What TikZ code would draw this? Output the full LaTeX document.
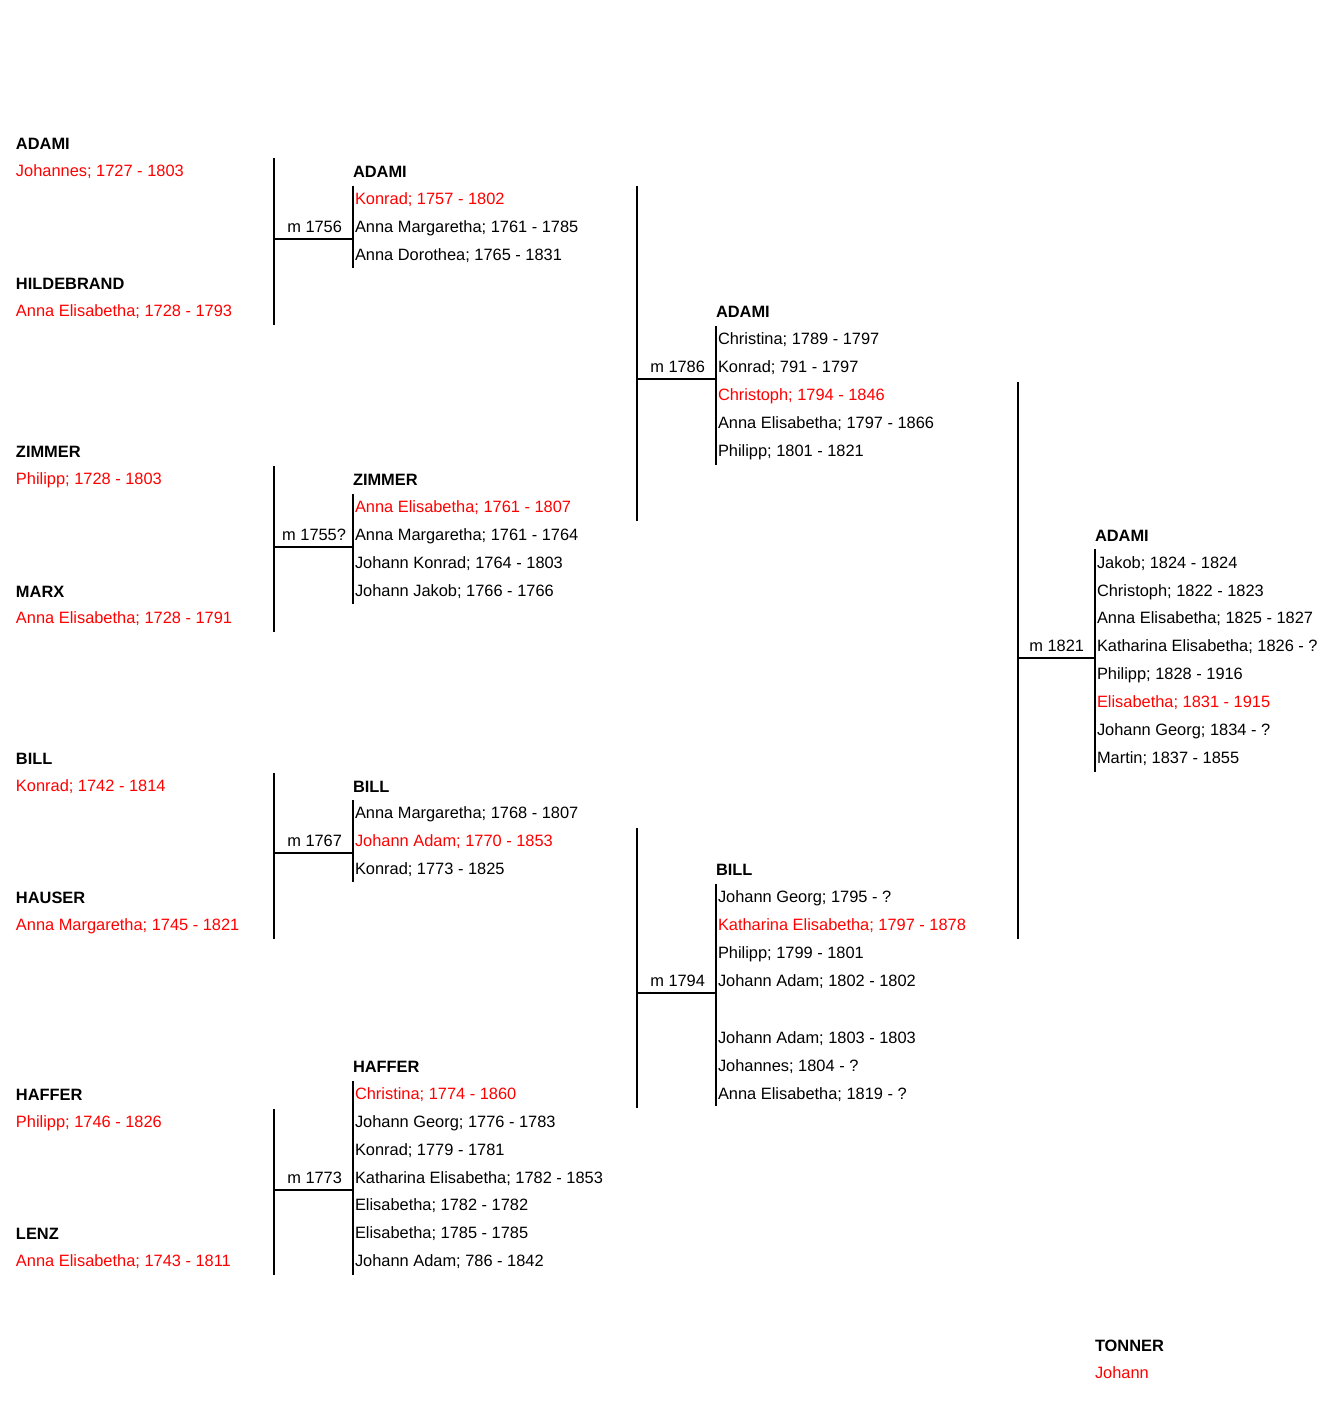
\documentclass[tikz,border=0pt]{standalone}
\usepackage{fontspec}
\setmainfont{Liberation Sans}
\begin{document}
\begin{tikzpicture}[x=1pt,y=-1pt,
  txt/.style={inner sep=0pt,outer sep=0pt,anchor=base west,font=\fontsize{16.4}{20}\selectfont},
  fam/.style={txt,font=\fontsize{16.4}{20}\selectfont\bfseries},
  per/.style={txt,text=red},
  kid/.style={txt},
  mar/.style={txt,anchor=base east},
  ln/.style={line width=2pt,black},
  thin/.style={line width=1.6pt,black}]
\useasboundingbox (0,0) rectangle (1324,1403);
\begin{scope}[yshift=-1pt]
% ---------- generation 1 ----------
\node[fam] (fA1) at (16,148) {ADAMI};
\node[per] (pA1) at (16,175) {Johannes; 1727 - 1803};
\node[fam] (fA2) at (16,288) {HILDEBRAND};
\node[per] (pA2) at (16,315) {Anna Elisabetha; 1728 - 1793};
\node[fam] (fA3) at (16,456) {ZIMMER};
\node[per] (pA3) at (16,483) {Philipp; 1728 - 1803};
\node[fam] (fA4) at (16,596) {MARX};
\node[per] (pA4) at (16,622) {Anna Elisabetha; 1728 - 1791};
\node[fam] (fA5) at (16,763) {BILL};
\node[per] (pA5) at (16,790) {Konrad; 1742 - 1814};
\node[fam] (fA6) at (16,902) {HAUSER};
\node[per] (pA6) at (16,929) {Anna Margaretha; 1745 - 1821};
\node[fam] (fA7) at (16,1099) {HAFFER};
\node[per] (pA7) at (16,1126) {Philipp; 1746 - 1826};
\node[fam] (fA8) at (16,1238) {LENZ};
\node[per] (pA8) at (16,1265) {Anna Elisabetha; 1743 - 1811};
\node[mar] (m1) at (342,231) {m 1756};
\node[mar] (m2) at (346,539) {m 1755?};
\node[mar] (m3) at (342,845) {m 1767};
\node[mar] (m4) at (342,1182) {m 1773};
% ---------- generation 2 families ----------
\node[fam] (fB1) at (353,176) {ADAMI};
\node[per] (b11) at (355,203) {Konrad; 1757 - 1802};
\node[kid] (b12) at (355,231) {Anna Margaretha; 1761 - 1785};
\node[kid] (b13) at (355,259) {Anna Dorothea; 1765 - 1831};
\node[fam] (fB2) at (353,484) {ZIMMER};
\node[per] (b21) at (355,511) {Anna Elisabetha; 1761 - 1807};
\node[kid] (b22) at (355,539) {Anna Margaretha; 1761 - 1764};
\node[kid] (b23) at (355,567) {Johann Konrad; 1764 - 1803};
\node[kid] (b24) at (355,595) {Johann Jakob; 1766 - 1766};
\node[fam] (fB3) at (353,791) {BILL};
\node[kid] (b31) at (355,817) {Anna Margaretha; 1768 - 1807};
\node[per] (b32) at (355,845) {Johann Adam; 1770 - 1853};
\node[kid] (b33) at (355,873) {Konrad; 1773 - 1825};
\node[fam] (fB4) at (353,1071) {HAFFER};
\node[per] (b41) at (355,1098) {Christina; 1774 - 1860};
\node[kid] (b42) at (355,1126) {Johann Georg; 1776 - 1783};
\node[kid] (b43) at (355,1154) {Konrad; 1779 - 1781};
\node[kid] (b44) at (355,1182) {Katharina Elisabetha; 1782 - 1853};
\node[kid] (b45) at (355,1209) {Elisabetha; 1782 - 1782};
\node[kid] (b46) at (355,1237) {Elisabetha; 1785 - 1785};
\node[kid] (b47) at (355,1265) {Johann Adam; 786 - 1842};
\node[mar] (m5) at (705,371) {m 1786};
\node[mar] (m6) at (705,985) {m 1794};
% ---------- generation 3 families ----------
\node[fam] (fC1) at (716,316) {ADAMI};
\node[kid] (c11) at (718,343) {Christina; 1789 - 1797};
\node[kid] (c12) at (718,371) {Konrad; 791 - 1797};
\node[per] (c13) at (718,399) {Christoph; 1794 - 1846};
\node[kid] (c14) at (718,427) {Anna Elisabetha; 1797 - 1866};
\node[kid] (c15) at (718,455) {Philipp; 1801 - 1821};
\node[fam] (fC2) at (716,874) {BILL};
\node[kid] (c21) at (718,901) {Johann Georg; 1795 - ?};
\node[per] (c22) at (718,929) {Katharina Elisabetha; 1797 - 1878};
\node[kid] (c23) at (718,957) {Philipp; 1799 - 1801};
\node[kid] (c24) at (718,985) {Johann Adam; 1802 - 1802};
\node[kid] (c25) at (718,1042) {Johann Adam; 1803 - 1803};
\node[kid] (c26) at (718,1070) {Johannes; 1804 - ?};
\node[kid] (c27) at (718,1098) {Anna Elisabetha; 1819 - ?};
\node[mar] (m7) at (1084,650) {m 1821};
% ---------- generation 4 ----------
\node[fam] (fD1) at (1095,540) {ADAMI};
\node[kid] (d1) at (1097,567) {Jakob; 1824 - 1824};
\node[kid] (d2) at (1097,595) {Christoph; 1822 - 1823};
\node[kid] (d3) at (1097,622) {Anna Elisabetha; 1825 - 1827};
\node[kid] (d4) at (1097,650) {Katharina Elisabetha; 1826 - ?};
\node[kid] (d5) at (1097,678) {Philipp; 1828 - 1916};
\node[per] (d6) at (1097,706) {Elisabetha; 1831 - 1915};
\node[kid] (d7) at (1097,734) {Johann Georg; 1834 - ?};
\node[kid] (d8) at (1097,762) {Martin; 1837 - 1855};
\node[fam] (fT) at (1095,1350) {TONNER};
\node[per] (pT) at (1095,1377) {Johann};
\end{scope}
% ---------- couple lines gen 1 ----------
\coordinate (v1t) at (274,158);  \coordinate (v1b) at (274,325);
\coordinate (h1a) at (274,239);  \coordinate (h1b) at (353,239);
\coordinate (c1t) at (353,186);  \coordinate (c1b) at (353,268);
\coordinate (v2t) at (274,466);  \coordinate (v2b) at (274,632);
\coordinate (h2a) at (274,547);  \coordinate (h2b) at (353,547);
\coordinate (c2t) at (353,494);  \coordinate (c2b) at (353,604);
\coordinate (v3t) at (274,773);  \coordinate (v3b) at (274,939);
\coordinate (h3a) at (274,853);  \coordinate (h3b) at (353,853);
\coordinate (c3t) at (353,800);  \coordinate (c3b) at (353,882);
\coordinate (v4t) at (274,1109); \coordinate (v4b) at (274,1275);
\coordinate (h4a) at (274,1190); \coordinate (h4b) at (353,1190);
\coordinate (c4t) at (353,1081); \coordinate (c4b) at (353,1275);
% ---------- couple lines gen 2 ----------
\coordinate (v5t) at (637,186);  \coordinate (v5b) at (637,521);
\coordinate (h5a) at (637,379);  \coordinate (h5b) at (716,379);
\coordinate (c5t) at (716,326);  \coordinate (c5b) at (716,465);
\coordinate (v6t) at (637,828);  \coordinate (v6b) at (637,1108);
\coordinate (h6a) at (637,993);  \coordinate (h6b) at (716,993);
\coordinate (c6t) at (716,884);  \coordinate (c6b) at (716,1106);
% ---------- couple line gen 3 ----------
\coordinate (v7t) at (1018,382); \coordinate (v7b) at (1018,939);
\coordinate (h7a) at (1018,658); \coordinate (h7b) at (1095,658);
\coordinate (c7t) at (1095,549); \coordinate (c7b) at (1095,772);
\foreach \k in {1,...,7}{
  \draw[ln] (v\k t) -- (v\k b);
  \draw[ln] (h\k a) -- (h\k b);
  \draw[thin] (c\k t) -- (c\k b);
}
\end{tikzpicture}
\end{document}
